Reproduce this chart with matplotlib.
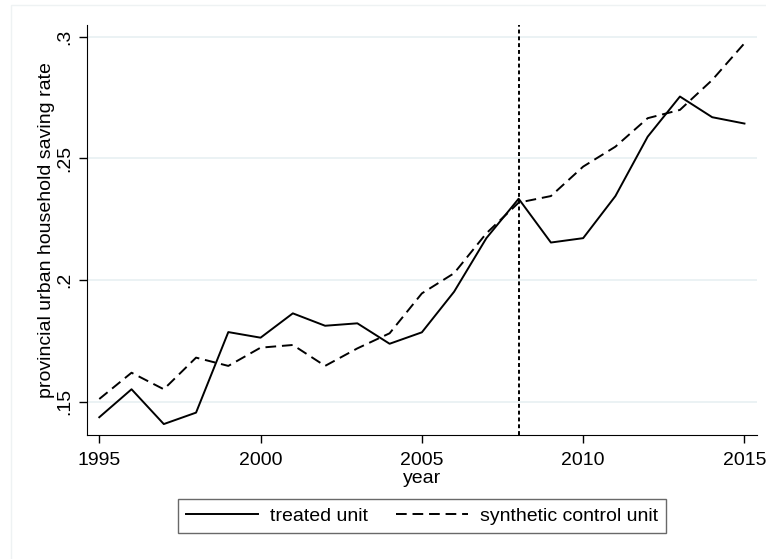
import matplotlib
matplotlib.use('Agg')
import matplotlib.pyplot as plt
from matplotlib.patches import Rectangle

plt.rcParams['font.family'] = ['Liberation Sans', 'DejaVu Sans']

years = list(range(1995, 2016))
treated = [0.1436, 0.1551, 0.1408, 0.1455, 0.1786, 0.1763, 0.1863, 0.1812, 0.1822, 0.1738,
           0.1785, 0.1952, 0.2172, 0.2334, 0.2154, 0.2172, 0.2345, 0.2589, 0.2754, 0.2669, 0.2643]
synthetic = [0.1511, 0.1619, 0.1551, 0.1681, 0.1647, 0.1722, 0.1733, 0.1647, 0.1719, 0.1781,
             0.1945, 0.2028, 0.2192, 0.2318, 0.2345, 0.2466, 0.2548, 0.2665, 0.2699, 0.2822, 0.2973]
treat_year = 2008
xticks = [1995, 2000, 2005, 2010, 2015]
yticks = [0.15, 0.2, 0.25, 0.3]
ylabels = ['.15', '.2', '.25', '.3']

fs = 14

fig = plt.figure(figsize=(7.66, 5.59), dpi=100)
ax = fig.add_axes([0.1136, 0.2218, 0.8747, 0.7335])

# faint outer graph border like stata
fig.patches.append(Rectangle((11/766, -0.01), 1.0, 1 - 5/559 + 0.01, transform=fig.transFigure,
                             fill=False, edgecolor='#eef2f3', linewidth=1))

for y in yticks:
    ax.axhline(y, color='#e8f0f2', linewidth=1.2, zorder=0)

l1, = ax.plot(years, treated, color='black', linewidth=1.4, label='treated unit')
l2, = ax.plot(years, synthetic, color='black', linewidth=1.4, linestyle=(0, (5.5, 3)),
              label='synthetic control unit')
ax.axvline(treat_year, color='black', linewidth=1.4, linestyle=(0, (2, 1.5)))

ax.set_xlim(1994.62, 2015.39)
ax.set_ylim(0.1363, 0.3048)
ax.set_xticks(xticks)
ax.set_yticks(yticks)
ax.set_yticklabels(ylabels, rotation=90, va='center')
ax.tick_params(labelsize=fs, length=6, width=1, direction='out')
ax.tick_params(axis='x', pad=6)
ax.tick_params(axis='y', pad=4)
ax.spines['top'].set_visible(False)
ax.spines['right'].set_visible(False)
ax.set_xlabel('year', fontsize=fs, labelpad=1)
ax.set_ylabel('provincial urban household saving rate', fontsize=fs, labelpad=1)

leg = fig.legend(handles=[l1, l2], loc='center', bbox_to_anchor=(422/766, 1 - 516/559),
                 ncol=2, fontsize=fs, frameon=True, fancybox=False, edgecolor='#444444',
                 handlelength=3.7, columnspacing=1.45, borderpad=0.4, handletextpad=0.6)
leg.get_frame().set_linewidth(1)

fig.savefig('out.png', dpi=100, facecolor='white')
